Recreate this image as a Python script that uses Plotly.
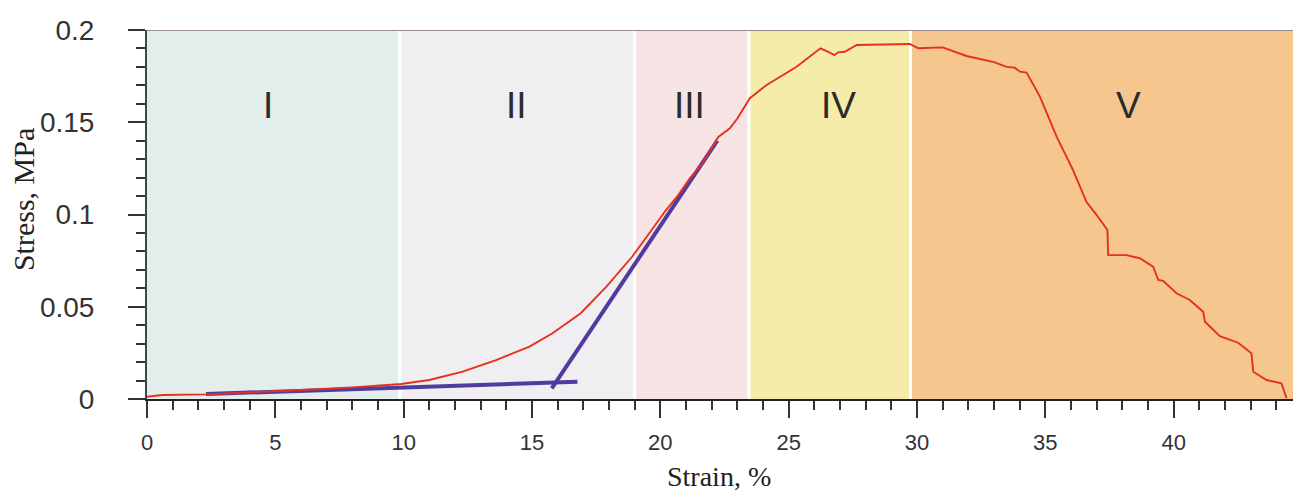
import plotly.graph_objects as go

# ---- data ----
strain = [0, 0.6, 2.3, 4.0, 6.0, 8.0, 9.9, 11.0, 12.3, 13.6, 14.9, 15.8, 16.9, 17.9, 18.9,
          19.5, 20.2, 20.7, 21.15, 21.6, 22.26, 22.71, 23.0, 23.49, 24.14, 25.31, 25.83, 26.24, 26.54,
          26.78, 26.93, 27.19, 27.65, 28.81, 29.72, 30.05, 31.0, 31.93, 33.0, 33.49, 33.81,
          34.01, 34.27, 34.79, 35.44, 36.08, 36.6, 37.0, 37.42, 37.45, 38.16, 38.68, 39.2,
          39.4, 39.59, 40.11, 40.63, 41.15, 41.22, 41.8, 42.51, 43.03, 43.1, 43.62, 44.2, 44.4]
stress = [0.0012, 0.0022, 0.0025, 0.0035, 0.0049, 0.0063, 0.0081, 0.0103, 0.0148, 0.0211,
          0.0284, 0.0356, 0.0465, 0.0609, 0.0771, 0.0885, 0.1020, 0.1105, 0.1196, 0.1270,
          0.1420, 0.1467, 0.1520, 0.1630, 0.1702, 0.1801, 0.1855, 0.1901, 0.1882, 0.1864,
          0.1879, 0.1882, 0.1919, 0.1922, 0.1924, 0.1901, 0.1906, 0.1859, 0.1826, 0.1800,
          0.1796, 0.1774, 0.1769, 0.1639, 0.1422, 0.1241, 0.1069, 0.0997, 0.0916, 0.0780,
          0.0780, 0.0763, 0.0717, 0.0645, 0.0640, 0.0573, 0.0537, 0.0473, 0.0419, 0.0341,
          0.0305, 0.0248, 0.0148, 0.0103, 0.0085, 0.0004]

tangent1_x = [2.3, 16.77]
tangent1_y = [0.0027, 0.0094]
tangent2_x = [15.77, 22.22]
tangent2_y = [0.0058, 0.1400]

region_edges = [0, 9.85, 19.0, 23.45, 29.75, 44.65]
region_names = ["I", "II", "III", "IV", "V"]
region_label_x = [4.73, 14.4, 21.15, 26.93, 38.25]
region_label_y = 0.159
region_colors = ["#e3eeec", "#f0eef1", "#f6e4e5", "#f6eca9", "#f6c68f"]

x_range = [0, 44.65]
y_range = [0, 0.2]
x_ticks = [0, 5, 10, 15, 20, 25, 30, 35, 40]
y_ticks = [0, 0.05, 0.1, 0.15, 0.2]
y_tick_text = ["0", "0.05", "0.1", "0.15", "0.2"]

fig = go.Figure()

fig.add_trace(go.Scatter(x=tangent1_x, y=tangent1_y, mode="lines",
                         line=dict(color="#4f3c9e", width=4), showlegend=False))
fig.add_trace(go.Scatter(x=tangent2_x, y=tangent2_y, mode="lines",
                         line=dict(color="#4f3c9e", width=4), showlegend=False))
fig.add_trace(go.Scatter(x=strain, y=stress, mode="lines",
                         line=dict(color="#e5301e", width=1.9), showlegend=False))

shapes = []
for i in range(len(region_names)):
    shapes.append(dict(type="rect", xref="x", yref="y", layer="below",
                       x0=region_edges[i], x1=region_edges[i + 1], y0=y_range[0], y1=y_range[1],
                       fillcolor=region_colors[i], line=dict(width=0)))
for e in region_edges[1:-1]:
    shapes.append(dict(type="line", xref="x", yref="y", layer="below",
                       x0=e, x1=e, y0=y_range[0], y1=y_range[1],
                       line=dict(color="white", width=3)))
shapes.append(dict(type="line", xref="paper", yref="y", x0=0, x1=1, y0=y_range[1], y1=y_range[1],
                   line=dict(color="#9c8d84", width=2)))

annotations = []
for name, lx in zip(region_names, region_label_x):
    annotations.append(dict(x=lx, y=region_label_y, xref="x", yref="y", text=name,
                            showarrow=False, font=dict(family="Liberation Sans", size=37, color="#2b2b2b")))
annotations.append(dict(x=0, y=0.539, xref="paper", yref="paper", text="Stress, MPa", textangle=-90,
                        showarrow=False, xanchor="center", yanchor="middle", xshift=-124,
                        font=dict(family="Liberation Serif", size=30, color="#222")))
annotations.append(dict(x=0.499, y=0, xref="paper", yref="paper", text="Strain, %",
                        showarrow=False, xanchor="center", yanchor="middle", yshift=-77,
                        font=dict(family="Liberation Serif", size=28, color="#222")))

fig.update_layout(
    width=1293, height=493,
    margin=dict(l=147, r=0, t=30, b=94),
    paper_bgcolor="white", plot_bgcolor="white",
    shapes=shapes, annotations=annotations,
    xaxis=dict(range=x_range, tickvals=x_ticks, showgrid=False, zeroline=False,
               showline=True, linecolor="#222", linewidth=2,
               ticks="outside", ticklen=17, tickwidth=2, tickcolor="#333",
               minor=dict(dtick=1, ticks="outside", ticklen=9, tickwidth=2, tickcolor="#333", showgrid=False),
               tickfont=dict(family="Liberation Sans", size=22, color="#333"),
               ticklabelstandoff=6),
    yaxis=dict(range=y_range, tickvals=y_ticks, ticktext=y_tick_text, showgrid=False, zeroline=False,
               showline=True, linecolor="#3d4848", linewidth=2,
               ticks="outside", ticklen=17, tickwidth=2, tickcolor="#333",
               minor=dict(dtick=0.01, ticks="outside", ticklen=9, tickwidth=2, tickcolor="#333", showgrid=False),
               tickfont=dict(family="Liberation Sans", size=28, color="#333"),
               ticklabelstandoff=28),
)

fig.write_html("out.html")
